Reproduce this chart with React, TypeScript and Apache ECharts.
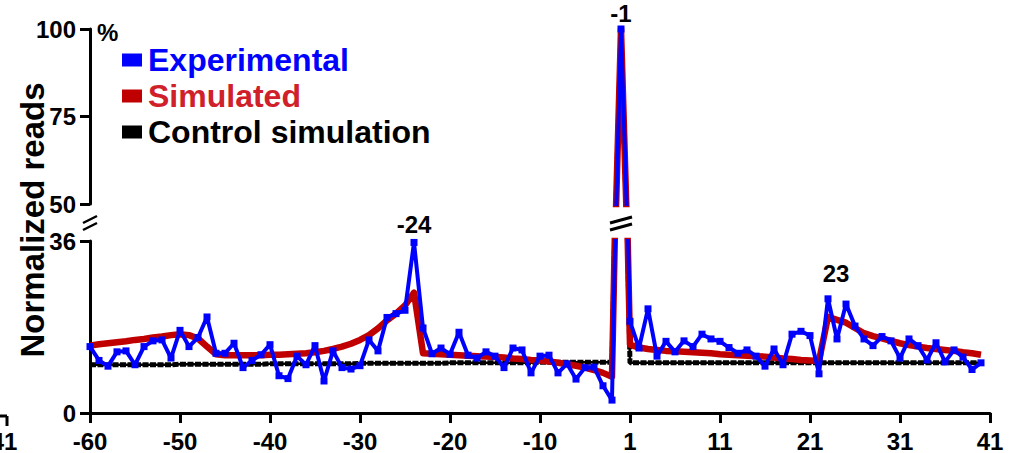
import React, { useEffect, useRef } from "react";
import * as echarts from "echarts";

// Nucleotide positions (there is no position 0)
const positions = [
  -60, -59, -58, -57, -56, -55, -54, -53, -52, -51,
  -50, -49, -48, -47, -46, -45, -44, -43, -42, -41,
  -40, -39, -38, -37, -36, -35, -34, -33, -32, -31,
  -30, -29, -28, -27, -26, -25, -24, -23, -22, -21,
  -20, -19, -18, -17, -16, -15, -14, -13, -12, -11,
  -10, -9, -8, -7, -6, -5, -4, -3, -2, -1,
  1, 2, 3, 4, 5, 6, 7, 8, 9, 10,
  11, 12, 13, 14, 15, 16, 17, 18, 19, 20,
  21, 22, 23, 24, 25, 26, 27, 28, 29, 30,
  31, 32, 33, 34, 35, 36, 37, 38, 39, 40,
  41,
];

const experimental = [
  13.9, 11.0, 9.8, 12.8, 13.0, 10.1, 13.9, 15.1, 15.3, 11.5,
  17.3, 13.9, 15.8, 20.1, 12.5, 12.5, 14.6, 9.5, 11.0, 12.2,
  14.3, 7.8, 7.2, 11.9, 10.1, 14.1, 6.7, 13.0, 9.5, 9.2,
  9.9, 15.3, 13.0, 20.0, 20.8, 21.5, 35.7, 17.8, 12.4, 13.6,
  12.3, 16.9, 12.1, 11.5, 12.8, 11.9, 9.5, 13.6, 13.2, 8.4,
  11.9, 12.1, 8.4, 10.3, 7.1, 9.5, 9.6, 5.7, 2.7, 100,
  19.2, 13.6, 21.8, 11.9, 15.0, 12.8, 15.1, 13.9, 16.5, 15.5,
  15.0, 13.7, 12.5, 13.2, 11.9, 9.8, 13.4, 10.1, 16.5, 17.1,
  16.2, 8.2, 23.9, 15.5, 22.8, 18.2, 15.5, 14.1, 16.0, 15.1,
  11.5, 15.5, 14.1, 11.1, 14.7, 10.7, 13.2, 11.7, 9.1, 10.5,
  null,
];

const simulated = [
  14.1, 14.4, 14.6, 14.8, 15.0, 15.3, 15.5, 15.8, 16.0, 16.3,
  16.5, 16.3, 15.6, 13.9, 12.3, 12.1, 12.1, 12.1, 12.1, 12.1,
  12.2, 12.2, 12.3, 12.4, 12.5, 12.7, 13.0, 13.4, 13.9, 14.5,
  15.3, 16.3, 17.7, 19.4, 20.8, 22.5, 25.2, 12.5, 12.4, 12.3,
  12.2, 12.1, 12.0, 11.9, 11.8, 11.7, 11.6, 11.4, 11.3, 11.1,
  11.0, 10.8, 10.5, 10.2, 9.9, 9.5, 9.0, 8.4, 7.6, 100,
  14.3, 13.7, 13.4, 13.2, 13.0, 12.9, 12.8, 12.7, 12.6, 12.5,
  12.3, 12.2, 12.1, 12.0, 11.9, 11.8, 11.6, 11.4, 11.3, 11.1,
  11.0, 10.9, 20.1, 19.5, 18.9, 17.8, 16.7, 16.1, 15.6, 15.1,
  14.6, 14.2, 13.9, 13.6, 13.4, 13.2, 13.0, 12.7, 12.5, 12.2,
  null,
];

const controlSim = [
  10.1, 10.1, 10.1, 10.1, 10.1, 10.1, 10.1, 10.1, 10.1, 10.1,
  10.2, 10.2, 10.2, 10.2, 10.2, 10.2, 10.2, 10.2, 10.2, 10.2,
  10.3, 10.3, 10.3, 10.3, 10.3, 10.3, 10.3, 10.3, 10.3, 10.3,
  10.4, 10.4, 10.4, 10.4, 10.4, 10.4, 10.4, 10.4, 10.4, 10.4,
  10.5, 10.5, 10.5, 10.5, 10.5, 10.5, 10.5, 10.5, 10.5, 10.5,
  10.6, 10.6, 10.6, 10.6, 10.6, 10.6, 10.6, 10.6, 10.6, 100,
  10.5, 10.5, 10.5, 10.5, 10.5, 10.5, 10.5, 10.5, 10.5, 10.5,
  10.5, 10.5, 10.5, 10.5, 10.5, 10.5, 10.5, 10.5, 10.5, 10.5,
  10.5, 10.5, 10.5, 10.5, 10.5, 10.5, 10.5, 10.5, 10.5, 10.5,
  10.5, 10.5, 10.5, 10.5, 10.5, 10.5, 10.5, 10.5, 10.5, 10.5,
  null,
];

const xTickLabels = [-60, -50, -40, -30, -20, -10, 1, 11, 21, 31, 41];
const peakLabels = [-24, 23];
const spikeLabel = -1;

const FONT = "'Liberation Sans', Arial, Helvetica, sans-serif";
const BLUE = "#0000ff";
const RED = "#c00000";
const RED_TEXT = "#d0202a";
const BLACK = "#000000";

export default function App() {
  const ref = useRef<HTMLDivElement>(null);

  useEffect(() => {
    const chart = echarts.init(ref.current!, null, { renderer: "svg" });
    const cats = positions.map(String);
    const isTick = (idx: number) => xTickLabels.includes(positions[idx]);

    const labelStyle = {
      show: true,
      fontFamily: FONT,
      fontWeight: "bold",
      fontSize: 24,
      color: BLACK,
    };

    const expLower = experimental.map((v, i) => {
      const p = positions[i];
      if (p === peakLabels[0]) {
        return { value: v, label: { ...labelStyle, formatter: String(p), position: "top", distance: 2 } };
      }
      if (p === peakLabels[1]) {
        return { value: v, label: { ...labelStyle, formatter: String(p), position: "top", distance: 10, offset: [8, 0] } };
      }
      return v;
    });
    const expUpper = experimental.map((v, i) => {
      const p = positions[i];
      if (p === spikeLabel) {
        return { value: v, label: { ...labelStyle, formatter: String(p), position: "top", distance: 0 } };
      }
      return v;
    });

    const makeSeries = (grid: number, expData: any[]) => [
      {
        name: "Control simulation",
        type: "line",
        xAxisIndex: grid,
        yAxisIndex: grid,
        data: controlSim,
        color: BLACK,
        symbol: "none",
        clip: true,
        lineStyle: { color: BLACK, width: 2.5 },
        z: 2,
      },
      {
        name: "Control simulation",
        type: "line",
        xAxisIndex: grid,
        yAxisIndex: grid,
        data: controlSim,
        color: BLACK,
        symbol: "none",
        clip: true,
        lineStyle: { color: BLACK, width: 5, type: [6, 1.5] },
        z: 3,
      },
      {
        name: "Simulated",
        type: "line",
        xAxisIndex: grid,
        yAxisIndex: grid,
        data: simulated,
        color: RED,
        symbol: "none",
        clip: true,
        lineStyle: { color: RED, width: 6.5, join: "round" },
        z: 4,
      },
      {
        name: "Experimental",
        type: "line",
        xAxisIndex: grid,
        yAxisIndex: grid,
        data: expData,
        color: BLUE,
        symbol: "rect",
        symbolSize: 7,
        showAllSymbol: true,
        clip: true,
        itemStyle: { color: BLUE },
        lineStyle: { color: BLUE, width: 4 },
        z: 5,
      },
    ];

    const axisLine = { show: true, lineStyle: { color: BLACK, width: 3 } };
    const axisTick = { show: true, inside: false, length: 10, lineStyle: { color: BLACK, width: 3 } };
    const tickFont = { fontFamily: FONT, fontWeight: "bold", fontSize: 24, color: BLACK };

    chart.setOption({
      animation: false,
      backgroundColor: "#ffffff",
      legend: {
        orient: "vertical",
        left: 122,
        top: 44,
        padding: 0,
        icon: "rect",
        itemWidth: 20,
        itemHeight: 13,
        itemGap: 4,
        itemStyle: { borderWidth: 0 },
        selectedMode: false,
        textStyle: { fontFamily: FONT, fontWeight: "bold", fontSize: 32, lineHeight: 32, padding: [0, 0, 0, 1] },
        data: [
          { name: "Experimental", textStyle: { color: BLUE } },
          { name: "Simulated", textStyle: { color: RED_TEXT } },
          { name: "Control simulation", textStyle: { color: BLACK } },
        ],
      },
      grid: [
        { left: 90, width: 900, top: 29, height: 175 },
        { left: 90, width: 900, top: 241, height: 175 },
      ],
      xAxis: [
        {
          gridIndex: 0,
          type: "category",
          data: cats,
          boundaryGap: false,
          show: false,
        },
        {
          gridIndex: 1,
          type: "category",
          data: cats,
          boundaryGap: false,
          axisLine,
          axisTick: { ...axisTick, interval: (idx: number) => isTick(idx) },
          axisLabel: { ...tickFont, margin: 16, interval: (idx: number) => isTick(idx) },
          splitLine: { show: false },
        },
      ],
      yAxis: [
        {
          gridIndex: 0,
          type: "value",
          min: 50,
          max: 100,
          interval: 25,
          axisLine,
          axisTick,
          axisLabel: { ...tickFont, margin: 14 },
          splitLine: { show: false },
        },
        {
          gridIndex: 1,
          type: "value",
          min: 0,
          max: 36,
          interval: 36,
          axisLine,
          axisTick,
          axisLabel: { ...tickFont, margin: 14 },
          splitLine: { show: false },
        },
      ],
      series: [...makeSeries(1, expLower), ...makeSeries(0, expUpper)],
      graphic: [
        {
          type: "text",
          x: 32,
          y: 220,
          rotation: Math.PI / 2,
          style: {
            text: "Normalized reads",
            font: `bold 33px ${FONT}`,
            fill: BLACK,
            textAlign: "center",
            textVerticalAlign: "middle",
          },
        },
        {
          type: "text",
          x: 97,
          y: 32,
          style: {
            text: "%",
            font: `bold 24px ${FONT}`,
            fill: BLACK,
            textAlign: "left",
            textVerticalAlign: "middle",
          },
        },
        // axis break marks on the y axis
        { type: "line", shape: { x1: 83, y1: 223, x2: 97, y2: 216 }, style: { stroke: BLACK, lineWidth: 2.5 } },
        { type: "line", shape: { x1: 83, y1: 230, x2: 97, y2: 223 }, style: { stroke: BLACK, lineWidth: 2.5 } },
        // axis break marks on the -1 spike
        { type: "line", shape: { x1: 610, y1: 223, x2: 632, y2: 217 }, style: { stroke: BLACK, lineWidth: 3 } },
        { type: "line", shape: { x1: 610, y1: 230, x2: 632, y2: 224 }, style: { stroke: BLACK, lineWidth: 3 } },
        // cropped neighbouring panel fragment at the left edge
        { type: "line", shape: { x1: 0, y1: 416, x2: 7, y2: 416 }, style: { stroke: BLACK, lineWidth: 3 } },
        { type: "line", shape: { x1: 7, y1: 416, x2: 7, y2: 426 }, style: { stroke: BLACK, lineWidth: 3 } },
        {
          type: "text",
          x: 4,
          y: 441,
          style: {
            text: "41",
            font: `bold 24px ${FONT}`,
            fill: BLACK,
            textAlign: "center",
            textVerticalAlign: "middle",
          },
        },
      ],
    });

    return () => chart.dispose();
  }, []);

  return (
    <div
      ref={ref}
      style={{ position: "absolute", left: 0, top: 0, width: 1019, height: 453, background: "#fff" }}
    />
  );
}
